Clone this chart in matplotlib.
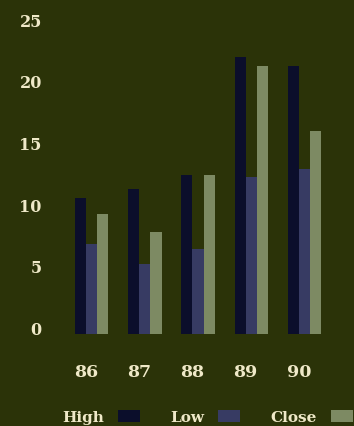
import numpy as np
import matplotlib
matplotlib.use("Agg")
import matplotlib.pyplot as plt

# yearly price summary
years = ["86", "87", "88", "89", "90"]
high = [11.0, 11.8, 12.9, 22.5, 21.7]
low = [7.3, 5.7, 6.9, 12.7, 13.4]
close = [9.7, 8.3, 12.9, 21.7, 16.5]
series_names = ["High", "Low", "Close"]
y_ticks = [0, 5, 10, 15, 20, 25]

bg = "#2b3308"
txt = "#efe9c8"
colors = ["#0b0e2b", "#373b63", "#7d8a63"]

plt.rcParams["font.family"] = ["DejaVu Serif"]
plt.rcParams["font.weight"] = "bold"

W, H = 354, 427
fig = plt.figure(figsize=(W / 100, H / 100), dpi=100, facecolor=bg)
ax = fig.add_axes([46 / W, (H - 345) / H, (344 - 46) / W, 335 / H])
ax.set_facecolor(bg)

x = np.arange(len(years))
w = 0.21
bars = []
for k, (vals, name) in enumerate(zip([high, low, close], series_names)):
    b = ax.bar(x + (k - 1) * w, vals, width=w, align="edge",
               color=colors[k], label=name, linewidth=0)
    bars.append(b)

ax.set_xlim(-0.751, 4.845)
ax.set_ylim(-0.811, 26.36)
ax.set_xticks(x)
ax.set_xticklabels(years, fontsize=12.5, color=txt, fontweight="bold")
ax.set_yticks(y_ticks)
ax.set_yticklabels([str(t) for t in y_ticks], fontsize=11.5, color=txt,
                   fontweight="bold", va="baseline")
ax.tick_params(axis="x", length=0, pad=14)
ax.tick_params(axis="y", length=0, pad=3)
for s in ax.spines.values():
    s.set_visible(False)

leg = ax.legend(ncol=3, markerfirst=False, frameon=False,
                loc="center left", bbox_to_anchor=(62 / W, 9 / H),
                bbox_transform=fig.transFigure, borderpad=0,
                borderaxespad=0, fontsize=11, handlelength=1.45,
                handleheight=0.8, handletextpad=0.9, columnspacing=2.0)
for t in leg.get_texts():
    t.set_color(txt)
    t.set_fontweight("bold")

fig.savefig("out.png", dpi=100, facecolor=bg)
